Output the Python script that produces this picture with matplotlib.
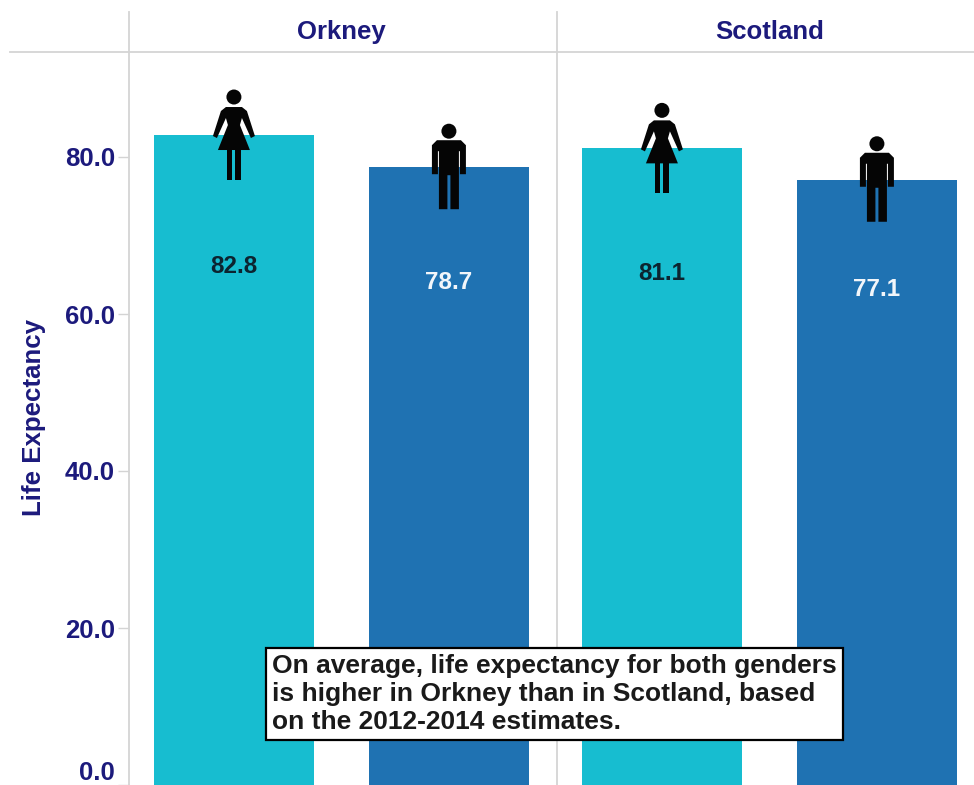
import matplotlib
matplotlib.use('Agg')
import matplotlib.pyplot as plt
from matplotlib.lines import Line2D
from matplotlib.patches import Circle, Polygon
from matplotlib.transforms import Affine2D

areas = ['Orkney', 'Scotland']
genders = ['female', 'male']
life_expectancy = {'Orkney': [82.8, 78.7], 'Scotland': [81.1, 77.1]}
bar_colors = ['#17bdd0', '#1f72b2']
value_colors = ['#0c2430', '#f2f6fa']
y_ticks = [0, 20, 40, 60, 80]
note = ('On average, life expectancy for both genders\n'
        'is higher in Orkney than in Scotland, based\n'
        'on the 2012-2014 estimates.')

W, H = 974, 785
NAVY = '#1c1a7c'
GREY = '#d4d4d4'
plt.rcParams['font.family'] = ['Liberation Sans', 'DejaVu Sans']


def fx(px):
    return px / W


def fy(py):
    return 1 - py / H


def draw_woman(ax, x, top):
    # shapes are in pixels relative to the top centre of the bar
    tr = Affine2D().translate(*ax.transData.transform((x, top)))
    shapes = [
        [(-8, 28), (8, 28), (13, 24), (21, -1), (17, -3), (8, 17), (6, 10), (16, -15),
         (-16, -15), (-6, 10), (-8, 17), (-17, -3), (-21, -1), (-13, 24)],
        [(-7, -15), (-1.5, -15), (-1.5, -45), (-7, -45)],
        [(1.5, -15), (7, -15), (7, -45), (1.5, -45)],
    ]
    for pts in shapes:
        ax.add_patch(Polygon(pts, closed=True, fc='#050505', ec='none', transform=tr, zorder=3))
    ax.add_patch(Circle((0, 38), 7.5, fc='#050505', ec='none', transform=tr, zorder=3))


def draw_man(ax, x, top):
    tr = Affine2D().translate(*ax.transData.transform((x, top)))
    shapes = [
        [(-12, 27), (12, 27), (17, 22), (17, -7), (11, -7), (11, 16), (10, 16), (10, -42),
         (1.5, -42), (1.5, -8), (-1.5, -8), (-1.5, -42), (-10, -42), (-10, 16), (-11, 16),
         (-11, -7), (-17, -7), (-17, 22)],
    ]
    for pts in shapes:
        ax.add_patch(Polygon(pts, closed=True, fc='#050505', ec='none', transform=tr, zorder=3))
    ax.add_patch(Circle((0, 36), 7.5, fc='#050505', ec='none', transform=tr, zorder=3))


fig = plt.figure(figsize=(W / 100, H / 100), dpi=100, facecolor='white')

panel_w = 428
for i, area in enumerate(areas):
    left = 129 + i * panel_w
    ax = fig.add_axes([fx(left), fy(785), panel_w / W, (785 - 52) / H])
    ax.set_xlim(-0.488, 1.5027)
    ax.set_ylim(0, (785 - 52) / 7.85)
    ax.bar(range(2), life_expectancy[area], width=0.744, color=bar_colors, zorder=2)
    for spine in ['top', 'right', 'bottom']:
        ax.spines[spine].set_visible(False)
    ax.spines['left'].set_color(GREY)
    ax.spines['left'].set_linewidth(1.3)
    ax.set_xticks([])
    if i == 0:
        ax.set_yticks(y_ticks)
        ax.set_yticklabels([f'{t:.1f}' for t in y_ticks], fontsize=18.5, fontweight='bold', color=NAVY)
        ax.tick_params(axis='y', length=8, color=GREY, width=1, pad=2)
        ax.get_yticklabels()[0].set_va('bottom')
    else:
        ax.set_yticks([])
    for j, value in enumerate(life_expectancy[area]):
        ax.text(j, value / 2 + 24.6, f'{value:.1f}', ha='center', va='center',
                fontsize=17.5, fontweight='bold', color=value_colors[j], zorder=4)
        if genders[j] == 'female':
            draw_woman(ax, j, value)
        else:
            draw_man(ax, j, value)
    fig.text(fx(left + panel_w / 2 - 2 + i), fy(32), area, ha='center', va='center',
             fontsize=18.5, fontweight='bold', color=NAVY)

# header rule and the upward extension of the panel dividers
fig.add_artist(Line2D([fx(10), 1], [fy(52), fy(52)], color=GREY, lw=1.3))
for px in [129, 557]:
    fig.add_artist(Line2D([fx(px), fx(px)], [fy(12), fy(52)], color=GREY, lw=1.3))

fig.text(fx(34), fy(417), 'Life Expectancy', rotation=90, ha='center', va='center',
         fontsize=18.6, fontweight='bold', color=NAVY)

fig.text(fx(272), fy(694), note, ha='left', va='center', fontsize=19, fontweight='bold',
         color='#1a1a1a', linespacing=1.22, zorder=10,
         bbox=dict(boxstyle='square,pad=0.22', fc='white', ec='black', lw=1.6))

fig.savefig('out.png', dpi=100)
